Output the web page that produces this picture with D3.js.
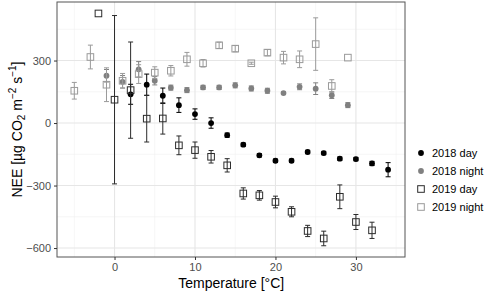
<!DOCTYPE html>
<html>
<head>
<meta charset="utf-8">
<script src="https://cdn.jsdelivr.net/npm/d3@7"></script>
<style>
  body { margin: 0; background: #fff; }
  svg { display: block; font-family: "Liberation Sans", Arial, sans-serif; }
</style>
</head>
<body>
<svg id="chart" width="498" height="294"></svg>
<script>
// 2018 day
const tDay18 = [2, 4, 6, 8, 10, 12, 14, 16, 18, 20, 22, 24, 26, 28, 30, 32, 34];
const neeDay18 = [138, 184, 131, 86, 43, 0, -58, -104, -155, -181, -181, -139, -144, -171, -173, -194, -224];
const errDay18 = [48, 51, 37, 35, 25, 25, 10, 8, 8, 8, 8, 8, 8, 8, 8, 10, 34];

// 2018 night
const tNight18 = [-1, 1, 3, 5, 7, 9, 11, 13, 15, 17, 19, 21, 23, 25, 27, 29];
const neeNight18 = [227, 198, 258, 203, 170, 158, 171, 171, 181, 166, 155, 144, 174, 165, 134, 86];
const errNight18 = [30, 30, 37, 20, 12, 12, 10, 10, 12, 12, 12, 5, 14, 28, 16, 12];

// 2019 day
const tDay19 = [-2, 0, 2, 4, 6, 8, 10, 12, 14, 16, 18, 20, 22, 24, 26, 28, 30, 32];
const neeDay19 = [526, 112, 158, 21, 22, -107, -130, -162, -203, -338, -347, -379, -426, -518, -554, -354, -475, -515];
const errDay19 = [0, 404, 231, 112, 75, 45, 39, 30, 32, 27, 23, 28, 24, 27, 35, 57, 36, 39];

// 2019 night
const tNight19 = [-5, -3, -1, 1, 3, 5, 7, 9, 11, 13, 15, 17, 19, 21, 23, 25, 27, 29];
const neeNight19 = [155, 317, 184, 203, 235, 242, 251, 306, 287, 373, 357, 287, 338, 314, 306, 379, 178, 314];
const errNight19 = [40, 57, 81, 35, 45, 28, 25, 33, 18, 15, 15, 5, 15, 30, 40, 126, 30, 0];

const xTicks = [0, 10, 20, 30];
const yTicks = [-600, -300, 0, 300];
const legendLabels = ["2018 day", "2018 night", "2019 day", "2019 night"];

const svg = d3.select("#chart");
const panel = { left: 57, right: 405, top: 2, bottom: 257 };

const x = d3.scaleLinear().domain([-7.15, 36.1]).range([panel.left, panel.right]);
const y = d3.scaleLinear().domain([-643, 581]).range([panel.bottom, panel.top]);

// grid
const grid = svg.append("g");
[-5, 5, 15, 25, 35].forEach(v => grid.append("line")
  .attr("x1", x(v)).attr("x2", x(v)).attr("y1", panel.top).attr("y2", panel.bottom)
  .attr("stroke", "#f0f0f0").attr("stroke-width", 0.6));
[-450, -150, 150, 450].forEach(v => grid.append("line")
  .attr("x1", panel.left).attr("x2", panel.right).attr("y1", y(v)).attr("y2", y(v))
  .attr("stroke", "#f0f0f0").attr("stroke-width", 0.6));
xTicks.forEach(v => grid.append("line")
  .attr("x1", x(v)).attr("x2", x(v)).attr("y1", panel.top).attr("y2", panel.bottom)
  .attr("stroke", "#e6e6e6").attr("stroke-width", 1.1));
yTicks.forEach(v => grid.append("line")
  .attr("x1", panel.left).attr("x2", panel.right).attr("y1", y(v)).attr("y2", y(v))
  .attr("stroke", "#e6e6e6").attr("stroke-width", 1.1));

// series
const series = [
  { t: tDay18, v: neeDay18, e: errDay18, shape: "circle", color: "#000000" },
  { t: tNight18, v: neeNight18, e: errNight18, shape: "circle", color: "#808080" },
  { t: tDay19, v: neeDay19, e: errDay19, shape: "square", color: "#2b2b2b" },
  { t: tNight19, v: neeNight19, e: errNight19, shape: "square", color: "#9a9a9a" }
];

series.forEach(s => {
  const data = s.t.map((t, i) => ({ t, v: s.v[i], e: s.e[i] }));
  const g = svg.append("g");
  const eb = g.selectAll("g.eb").data(data.filter(d => d.e > 0)).join("g")
    .attr("stroke", s.color).attr("stroke-width", 1);
  eb.append("line").attr("x1", d => x(d.t)).attr("x2", d => x(d.t))
    .attr("y1", d => y(d.v + d.e)).attr("y2", d => y(d.v - d.e));
  eb.append("line").attr("x1", d => x(d.t) - 2.5).attr("x2", d => x(d.t) + 2.5)
    .attr("y1", d => y(d.v + d.e)).attr("y2", d => y(d.v + d.e));
  eb.append("line").attr("x1", d => x(d.t) - 2.5).attr("x2", d => x(d.t) + 2.5)
    .attr("y1", d => y(d.v - d.e)).attr("y2", d => y(d.v - d.e));

  if (s.shape === "circle") {
    g.selectAll("circle").data(data).join("circle")
      .attr("cx", d => x(d.t)).attr("cy", d => y(d.v)).attr("r", 2.9)
      .attr("fill", s.color);
  } else {
    g.selectAll("rect").data(data).join("rect")
      .attr("x", d => x(d.t) - 3.3).attr("y", d => y(d.v) - 3.3)
      .attr("width", 6.6).attr("height", 6.6)
      .attr("fill", "none").attr("stroke", s.color).attr("stroke-width", 1);
  }
});

// panel border
svg.append("rect").attr("x", panel.left).attr("y", panel.top)
  .attr("width", panel.right - panel.left).attr("height", panel.bottom - panel.top)
  .attr("fill", "none").attr("stroke", "#555").attr("stroke-width", 1);

// axes
const xAxis = svg.append("g").attr("transform", `translate(0,${panel.bottom})`)
  .call(d3.axisBottom(x).tickValues(xTicks).tickSize(3).tickPadding(3));
const yAxis = svg.append("g").attr("transform", `translate(${panel.left},0)`)
  .call(d3.axisLeft(y).tickValues(yTicks).tickSize(3).tickPadding(3));
[xAxis, yAxis].forEach(a => {
  a.select(".domain").remove();
  a.selectAll(".tick line").attr("stroke", "#333");
  a.selectAll(".tick text").attr("fill", "#4d4d4d").style("font-size", "11px")
    .style("font-family", "'Liberation Sans', Arial, sans-serif");
});

// axis titles
svg.append("text").attr("x", x(14.5)).attr("y", 288).attr("text-anchor", "middle")
  .style("font-size", "14px").text("Temperature [°C]");

const yt = svg.append("text").attr("transform", `translate(22,${(panel.top + panel.bottom) / 2}) rotate(-90)`)
  .attr("text-anchor", "middle").style("font-size", "14px");
yt.append("tspan").text("NEE [µg CO");
yt.append("tspan").attr("dy", 3).style("font-size", "10px").text("2");
yt.append("tspan").attr("dy", -3).text(" m");
yt.append("tspan").attr("dy", -6).style("font-size", "10px").text("−2");
yt.append("tspan").attr("dy", 6).text(" s");
yt.append("tspan").attr("dy", -6).style("font-size", "10px").text("−1");
yt.append("tspan").attr("dy", 6).text("]");

// legend
const lg = svg.append("g").attr("transform", "translate(413,0)");
legendLabels.forEach((lab, i) => {
  const s = series[i];
  const cy = 153 + i * 18;
  if (s.shape === "circle") {
    lg.append("circle").attr("cx", 8).attr("cy", cy).attr("r", 2.9).attr("fill", s.color);
  } else {
    lg.append("rect").attr("x", 4.7).attr("y", cy - 3.3).attr("width", 6.6).attr("height", 6.6)
      .attr("fill", "none").attr("stroke", s.color);
  }
  lg.append("text").attr("x", 19).attr("y", cy + 4).style("font-size", "11px").text(lab);
});
</script>
</body>
</html>
